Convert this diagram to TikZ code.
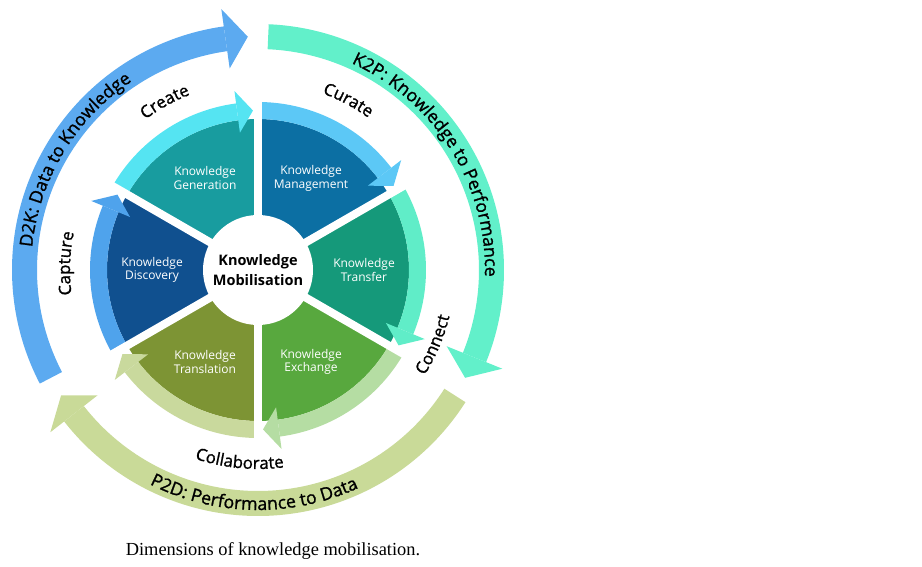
\documentclass[tikz,border=0pt]{standalone}
\usepackage{fontspec}
\setmainfont{Liberation Serif}
\setsansfont{Open Sans}
\newfontfamily\semisans{Open Sans}[FakeBold=1.2]
\usepackage{tikz}
\usetikzlibrary{decorations.text}
\definecolor{GenD}{HTML}{189C9F}
\definecolor{GenL}{HTML}{55E4F2}
\definecolor{ManD}{HTML}{0C6FA3}
\definecolor{ManL}{HTML}{5CC8F6}
\definecolor{TraD}{HTML}{15997A}
\definecolor{TraL}{HTML}{60EDC8}
\definecolor{ExcD}{HTML}{58A83E}
\definecolor{ExcL}{HTML}{B5DDA3}
\definecolor{TslD}{HTML}{7D9434}
\definecolor{TslL}{HTML}{C9D99D}
\definecolor{DisD}{HTML}{10508F}
\definecolor{DisL}{HTML}{4FA3EC}
\definecolor{DtoK}{HTML}{5CAAF0}
\definecolor{KtoP}{HTML}{62F0CA}
\definecolor{PtoD}{HTML}{C9DA98}
\newcommand{\ringfont}{\semisans\fontsize{17.8}{20}\selectfont}
\newcommand{\stagefont}{\semisans\fontsize{16.8}{19}\selectfont}
% sector: from angle #1 to #2, dark fill #3, arrow band #4
\newcommand{\kmsector}[4]{%
  \fill[#3] (0,0) -- (#1:151pt) arc[start angle=#1, end angle=#2, radius=151pt] -- cycle;
  \fill[#4] (#2:151pt) arc[start angle=#2, end angle=#1+7.5, radius=151pt]
    -- (#1+7.5:168pt) arc[start angle=#1+7.5, end angle=#2, radius=168pt] -- cycle;
  \fill[#4] (#1+7.5:138.5pt) -- (#1+1.8:159.5pt) -- (#1+7.5:180.5pt) -- cycle;
}
% outer arrow: tail at #1, tip at #2, colour #3
\newcommand{\kmring}[3]{%
  \fill[#3] (#1:221pt) arc[start angle=#1, end angle=#2+5.5, radius=221pt]
    -- (#2+5.5:246pt) arc[start angle=#2+5.5, end angle=#1, radius=246pt] -- cycle;
  \fill[#3] (#2+5.5:203.5pt) -- (#2:233.5pt) -- (#2+5.5:263.5pt) -- cycle;
}

\begin{document}
\begin{tikzpicture}[
	seglabel/.style = {align=center, text=white, font=\sffamily\fontsize{12}{13.5}\selectfont},
	hublabel/.style = {align=center, font=\sffamily\bfseries\fontsize{14.5}{20}\selectfont},
	arclabel/.style = {decorate, decoration={text along path, text align=center, text={#1}}}
]
  \useasboundingbox (0,0) rectangle (922pt,566pt);
  \begin{scope}[shift={(258pt,296pt)}]
  % outer cycle
  \kmring{207.5}{92.5}{DtoK}
  \kmring{87.5}{-27.5}{KtoP}
  \kmring{-32.5}{-147.5}{PtoD}

  % inner sectors
  \kmsector{90}{150}{GenD}{GenL}
  \kmsector{30}{90}{ManD}{ManL}
  \kmsector{-30}{30}{TraD}{TraL}
  \kmsector{-90}{-30}{ExcD}{ExcL}
  \kmsector{-150}{-90}{TslD}{TslL}
  \kmsector{150}{210}{DisD}{DisL}
  \foreach \a in {30,90,...,330}
    \draw[white, line width=8pt] (0,0) -- (\a:186pt);
  \fill[white] (0,0) circle (55pt);

  % labels
  \node[hublabel] (mob) at (0,0) {Knowledge\\Mobilisation};
  \node[seglabel] (gen) at (120:106pt) {Knowledge\\Generation};
  \node[seglabel] (man) at (60:106pt) {Knowledge\\Management};
  \node[seglabel] (tra) at (0:106pt) {Knowledge\\Transfer};
  \node[seglabel] (exc) at (-60:106pt) {Knowledge\\Exchange};
  \node[seglabel] (tsl) at (-120:106pt) {Knowledge\\Translation};
  \node[seglabel] (dis) at (180:106pt) {Knowledge\\Discovery};

  \path[arclabel={|\ringfont|D2K: Data to Knowledge}]
    (199:227pt) arc[start angle=199, end angle=99, radius=227pt];
  \path[arclabel={|\ringfont|K2P: Knowledge to Performance}]
    (84:227pt) arc[start angle=84, end angle=-20, radius=227pt];
  \path[arclabel={|\ringfont|P2D: Performance to Data}]
    (-141:240pt) arc[start angle=-141, end angle=-41, radius=240pt];

  \path[arclabel={|\stagefont|Create}]
    (147:188pt) arc[start angle=147, end angle=91, radius=188pt];
  \path[arclabel={|\stagefont|Curate}]
    (90:188pt) arc[start angle=90, end angle=34, radius=188pt];
  \path[arclabel={|\stagefont|Capture}]
    (208:188pt) arc[start angle=208, end angle=148, radius=188pt];
  \path[arclabel={|\stagefont|Connect}]
    (-53:197pt) arc[start angle=-53, end angle=7, radius=197pt];
  \path[arclabel={|\stagefont|Collaborate}]
    (-135:199pt) arc[start angle=-135, end angle=-56, radius=199pt];
  \end{scope}

  \node[font=\fontsize{18.4}{22}\selectfont] (caption) at (273pt,15pt) {Dimensions of knowledge mobilisation.};
\end{tikzpicture}
\end{document}
